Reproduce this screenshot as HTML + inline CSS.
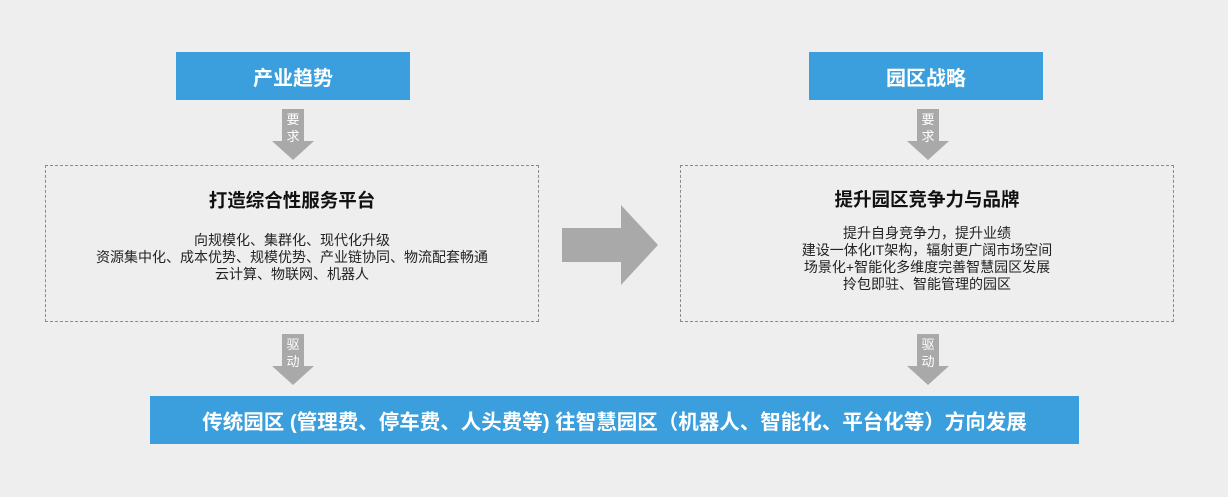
<!DOCTYPE html>
<html><head><meta charset="utf-8"><style>
body{margin:0;width:1228px;height:497px;background:#eeeeee;position:relative;overflow:hidden;font-family:"Liberation Sans","Noto Sans CJK SC",sans-serif}
.b{position:absolute;background:#3a9fdc;color:#fff;font-weight:bold;display:flex;align-items:center;justify-content:center}
.d{position:absolute;border:1px dashed #8a8a8a;box-sizing:border-box;text-align:center;color:#222}
.d h3{margin:0;font-size:18.5px;line-height:22px;font-weight:bold;color:#111}
.d p{margin:0;font-size:14px;line-height:17px}
.ar{position:absolute;width:42px;height:51px}
.ar .s{position:absolute;left:10px;top:0;width:22px;height:33px;background:#a9a9a9}
.ar .h{position:absolute;left:0;top:32px;width:0;height:0;border-left:21px solid transparent;border-right:21px solid transparent;border-top:19px solid #a9a9a9}
.ar .t{position:absolute;left:9px;top:2px;width:24px;color:#fff;font-size:13px;line-height:17px;text-align:center}
</style></head><body>
<div class="b" style="left:176px;top:52px;width:234px;height:48px;font-size:20px">产业趋势</div>
<div class="b" style="left:809px;top:52px;width:234px;height:48px;font-size:20px">园区战略</div>
<div class="ar" style="left:272px;top:109px"><div class="s"></div><div class="h"></div><div class="t">要<br>求</div></div>
<div class="ar" style="left:907px;top:109px"><div class="s"></div><div class="h"></div><div class="t">要<br>求</div></div>
<div class="ar" style="left:272px;top:334px"><div class="s"></div><div class="h"></div><div class="t">驱<br>动</div></div>
<div class="ar" style="left:907px;top:334px"><div class="s"></div><div class="h"></div><div class="t">驱<br>动</div></div>
<div class="d" style="left:45px;top:165px;width:494px;height:157px;padding-top:24px">
<h3>打造综合性服务平台</h3>
<p style="margin-top:20px">向规模化、集群化、现代化升级<br>资源集中化、成本优势、规模优势、产业链协同、物流配套畅通<br>云计算、物联网、机器人</p></div>
<div class="d" style="left:680px;top:165px;width:494px;height:157px;padding-top:23px">
<h3>提升园区竞争力与品牌</h3>
<p style="margin-top:14px">提升自身竞争力，提升业绩<br>建设一体化IT架构，辐射更广阔市场空间<br>场景化+智能化多维度完善智慧园区发展<br>拎包即驻、智能管理的园区</p></div>
<svg style="position:absolute;left:562px;top:205px" width="97" height="81"><polygon points="0,23 59,23 59,0 96,40 59,80 59,57 0,57" fill="#a9a9a9"/></svg>
<div class="b" style="left:150px;top:396px;width:929px;height:48px;font-size:20.5px">传统园区 (管理费、停车费、人头费等) 往智慧园区（机器人、智能化、平台化等）方向发展</div>
</body></html>
